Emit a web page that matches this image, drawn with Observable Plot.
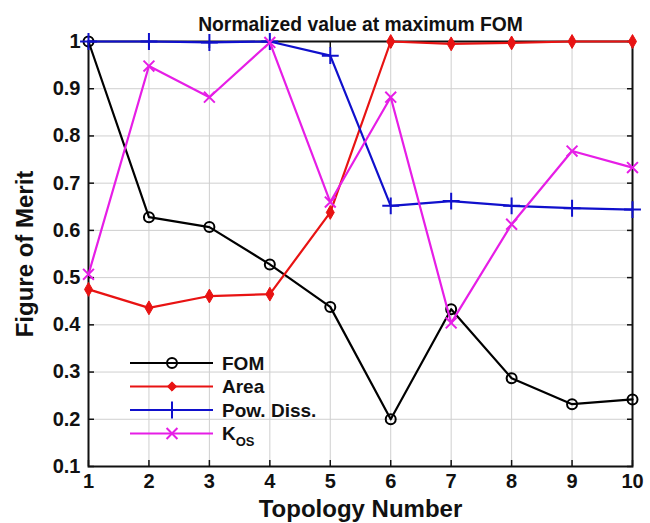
<!DOCTYPE html>
<html><head><meta charset="utf-8">
<script src="https://cdn.jsdelivr.net/npm/d3@7"></script>
<script src="https://cdn.jsdelivr.net/npm/@observablehq/plot@0.6"></script>
<style>
body{margin:0;background:#fff;font-family:"Liberation Sans",Arial,sans-serif;}
#wrap{position:relative;width:650px;height:523px;}
#legend{position:absolute;left:0;top:0;pointer-events:none;}
</style></head><body><div id="wrap"></div>
<script>
// ---- data ----
const topology = [1, 2, 3, 4, 5, 6, 7, 8, 9, 10];
const fom      = [1.000, 0.628, 0.607, 0.528, 0.438, 0.200, 0.433, 0.287, 0.232, 0.242];
const area     = [0.475, 0.436, 0.461, 0.465, 0.638, 1.000, 0.995, 0.997, 1.000, 1.000];
const powDiss  = [1.000, 1.000, 0.998, 1.000, 0.970, 0.652, 0.662, 0.652, 0.647, 0.644];
const kos      = [0.507, 0.948, 0.882, 0.998, 0.660, 0.882, 0.404, 0.613, 0.768, 0.733];
const yTicks   = [0.1, 0.2, 0.3, 0.4, 0.5, 0.6, 0.7, 0.8, 0.9, 1];
const seriesNames = ["FOM", "Area", "Pow. Diss.", "KOS"];
const titleText = "Normalized value at maximum FOM";
const xLabel = "Topology Number";
const yLabel = "Figure of Merit";

const styles = [
  {color: "#000000", symbol: "circle",  fill: "none",    r: 5,   sw: 2},
  {color: "#e81313", symbol: "diamond", fill: "#e81313", r: 4.2, sw: 1},
  {color: "#1010cc", symbol: "plus",    fill: "none",    r: 5.5, sw: 2},
  {color: "#e61ee6", symbol: "times",   fill: "none",    r: 5,   sw: 2}
];
const valueArrays = [fom, area, powDiss, kos];
const series = seriesNames.map((name, k) => ({
  name, ...styles[k],
  rows: topology.map((t, i) => ({x: t, y: valueArrays[k][i]}))
}));

const W = 650, H = 523;
const mL = 88, mR = 18, mT = 41, mB = 57;
const font = {fontSize: 20, fontWeight: "bold", fill: "#111"};
const tickOnly = {tickSize: -6, tickFormat: () => "", strokeWidth: 1.5, stroke: "#111", label: null};

const marks = [
  Plot.gridX(topology, {stroke: "#cfcfcf", strokeOpacity: 1, strokeWidth: 1}),
  Plot.gridY(yTicks, {stroke: "#cfcfcf", strokeOpacity: 1, strokeWidth: 1}),
  // inward tick marks (all four sides)
  Plot.axisX(topology, {anchor: "bottom", ...tickOnly}),
  Plot.axisX(topology, {anchor: "top", ...tickOnly}),
  Plot.axisY(yTicks, {anchor: "left", ...tickOnly}),
  Plot.axisY(yTicks, {anchor: "right", ...tickOnly}),
  // tick labels
  Plot.axisX(topology, {anchor: "bottom", tickSize: 0, tickPadding: 7, tickFormat: d => String(d), label: null, ...font}),
  Plot.axisY(yTicks, {anchor: "left", tickSize: 0, tickPadding: 8, tickFormat: d3.format("~g"), label: null, ...font}),
  Plot.frame({stroke: "#111", strokeWidth: 2})
];

for (const s of series) {
  marks.push(Plot.line(s.rows, {x: "x", y: "y", stroke: s.color, strokeWidth: 2.2}));
  marks.push(Plot.dot(s.rows, {x: "x", y: "y", symbol: s.symbol, r: s.r, stroke: s.color, fill: s.fill, strokeWidth: s.sw}));
}

marks.push(Plot.text([titleText], {frameAnchor: "top", dy: -24, fontSize: 19.3, fontWeight: "bold", fill: "#111"}));
marks.push(Plot.text([xLabel], {frameAnchor: "bottom", dy: 50, fontSize: 24, fontWeight: "bold", fill: "#111"}));
marks.push(Plot.text([yLabel], {frameAnchor: "left", textAnchor: "middle", dx: -63, rotate: -90, fontSize: 24, fontWeight: "bold", fill: "#111"}));

const chart = Plot.plot({
  width: W, height: H,
  marginLeft: mL, marginRight: mR, marginTop: mT, marginBottom: mB,
  style: {fontFamily: "'Liberation Sans', Arial, sans-serif", background: "#fff", overflow: "visible"},
  x: {domain: [1, 10], axis: null},
  y: {domain: [0.1, 1], axis: null},
  marks
});
const wrap = document.getElementById("wrap");
wrap.appendChild(chart);

// ---- legend overlay (inside plot, lower left) ----
const leg = d3.select(wrap).append("svg").attr("id", "legend")
  .attr("width", W).attr("height", H)
  .style("font-family", "'Liberation Sans', Arial, sans-serif");
const symMap = {circle: d3.symbolCircle, diamond: d3.symbolDiamond2, plus: d3.symbolPlus, times: d3.symbolTimes};
const lx0 = 130, lx1 = 213, lmx = 172, ltx = 222, ly0 = 363, ldy = 23.5;
series.forEach((s, k) => {
  const y = ly0 + k * ldy;
  const g = leg.append("g");
  g.append("line").attr("x1", lx0).attr("x2", lx1).attr("y1", y).attr("y2", y)
    .attr("stroke", s.color).attr("stroke-width", 2.2);
  g.append("path").attr("transform", `translate(${lmx},${y})`)
    .attr("d", d3.symbol(symMap[s.symbol], Math.PI * s.r * s.r)())
    .attr("stroke", s.color).attr("fill", s.fill).attr("stroke-width", s.sw);
  const t = g.append("text").attr("x", ltx).attr("y", y).attr("dy", "0.36em")
    .attr("font-size", 19).attr("font-weight", "bold").attr("fill", "#111");
  if (s.name === "KOS") {
    t.append("tspan").text("K");
    t.append("tspan").attr("font-size", 13).attr("dy", "0.45em").text("OS");
  } else t.text(s.name);
});
</script></body></html>
